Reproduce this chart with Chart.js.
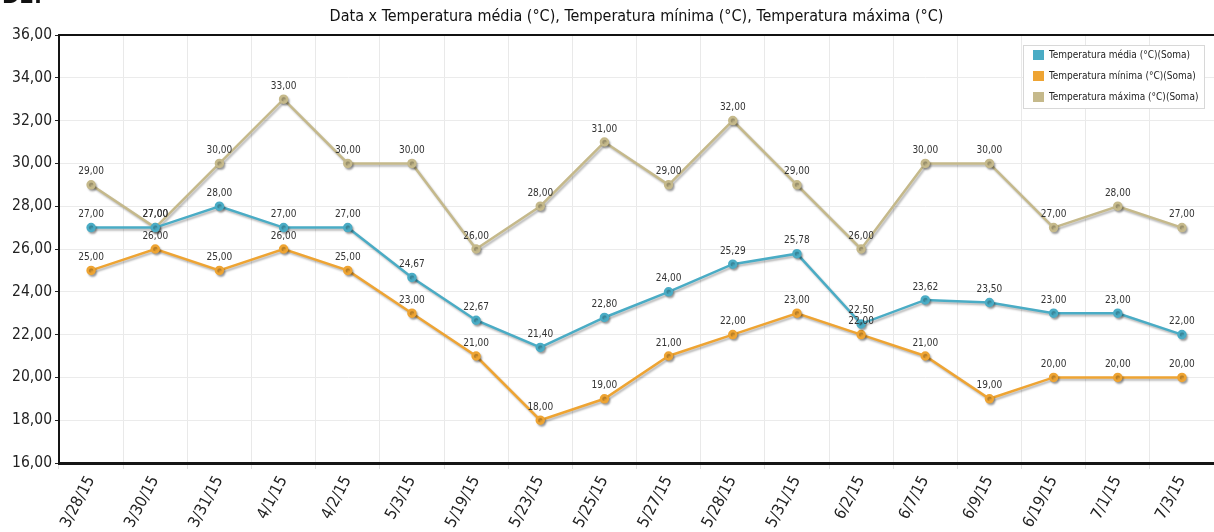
<!DOCTYPE html>
<html>
<head>
<meta charset="utf-8">
<script src="https://cdn.jsdelivr.net/npm/chart.js@4/dist/chart.umd.min.js"></script>
<style>
  html, body { margin: 0; padding: 0; background: #fff; overflow: hidden; }
  #wrap { position: relative; width: 1214px; height: 532px; }
  #tag { position: absolute; left: 2px; top: -16px; font: bold 21px 'DejaVu Sans', sans-serif; color: #111; }
</style>
</head>
<body>
<div id="wrap">
  <canvas id="chart" width="1214" height="532"></canvas>
  <div id="tag">D2.</div>
</div>
<script>
const categories = ['3/28/15','3/30/15','3/31/15','4/1/15','4/2/15','5/3/15','5/19/15','5/23/15','5/25/15',
  '5/27/15','5/28/15','5/31/15','6/2/15','6/7/15','6/9/15','6/19/15','7/1/15','7/3/15'];
const tempMedia  = [27, 27, 28, 27, 27, 24.67, 22.67, 21.40, 22.80, 24.00, 25.29, 25.78, 22.50, 23.62, 23.50, 23.00, 23.00, 22.00];
const tempMinima = [25, 26, 25, 26, 25, 23, 21, 18, 19, 21, 22, 23, 22, 21, 19, 20, 20, 20];
const tempMaxima = [29, 27, 30, 33, 30, 30, 26, 28, 31, 29, 32, 29, 26, 30, 30, 27, 28, 27];
const seriesNames = ['Temperatura média (°C)(Soma)', 'Temperatura mínima (°C)(Soma)', 'Temperatura máxima (°C)(Soma)'];
const yTicks = { min: 16, max: 36, step: 2 };
const chartTitle = 'Data x Temperatura média (°C), Temperatura mínima (°C), Temperatura máxima (°C)';

const FONT = "'DejaVu Sans Condensed', 'DejaVu Sans', sans-serif";
const fmt = v => v.toFixed(2).replace('.', ',');

function series(label, data, color) {
  return {
    label, data,
    borderColor: color, backgroundColor: color,
    pointBackgroundColor: color, pointBorderColor: color,
    borderWidth: 2.5, pointRadius: 3.5, pointHoverRadius: 3.5, tension: 0, fill: false
  };
}

// soft drop shadow under lines and markers
const shadowPlugin = {
  id: 'shadow',
  beforeDatasetsDraw(chart) {
    const c = chart.ctx;
    c.save();
    c.shadowColor = 'rgba(0,0,0,0.28)';
    c.shadowBlur = 2;
    c.shadowOffsetX = 1.5;
    c.shadowOffsetY = 2;
  },
  afterDatasetsDraw(chart) { chart.ctx.restore(); }
};

// value labels above every point
const valueLabels = {
  id: 'valueLabels',
  afterDatasetsDraw(chart) {
    const c = chart.ctx;
    c.save();
    c.font = '10px ' + FONT;
    c.fillStyle = '#333';
    c.textAlign = 'center';
    c.textBaseline = 'bottom';
    chart.data.datasets.forEach((ds, i) => {
      chart.getDatasetMeta(i).data.forEach((pt, j) => {
        c.fillText(fmt(ds.data[j]), pt.x, pt.y - 8);
      });
    });
    c.restore();
  }
};

// title, top frame line and boxed legend inside the plot
const decor = {
  id: 'decor',
  afterDraw(chart) {
    const c = chart.ctx, a = chart.chartArea;
    c.save();
    c.strokeStyle = '#111';
    c.lineWidth = 2;
    c.beginPath(); c.moveTo(a.left, a.top); c.lineTo(a.right, a.top); c.stroke();

    c.font = '16px ' + FONT;
    c.fillStyle = '#111';
    c.textAlign = 'center';
    c.textBaseline = 'middle';
    c.fillText(chartTitle, (a.left + a.right) / 2, 17);

    const bx = 1023, by = 45, bw = 181, bh = 63;
    c.fillStyle = '#fff';
    c.fillRect(bx, by, bw, bh);
    c.strokeStyle = '#d8d8d8';
    c.lineWidth = 1;
    c.strokeRect(bx + 0.5, by + 0.5, bw, bh);
    c.font = '10px ' + FONT;
    c.textAlign = 'left';
    chart.data.datasets.forEach((ds, i) => {
      const yy = by + 10 + i * 21;
      c.fillStyle = ds.borderColor;
      c.fillRect(bx + 10, yy - 5, 11, 10);
      c.fillStyle = '#222';
      c.fillText(ds.label, bx + 26, yy + 0.5);
    });
    c.restore();
  }
};

new Chart(document.getElementById('chart'), {
  type: 'line',
  data: {
    labels: categories,
    datasets: [
      series(seriesNames[0], tempMedia, '#4aacc5'),
      series(seriesNames[1], tempMinima, '#eea433'),
      series(seriesNames[2], tempMaxima, '#c5b98b')
    ]
  },
  options: {
    responsive: false,
    animation: false,
    layout: { autoPadding: false, padding: { top: 35, right: 0, left: 0, bottom: 0 } },
    plugins: { legend: { display: false }, title: { display: false }, tooltip: { enabled: false } },
    scales: {
      x: {
        offset: true,
        grid: { offset: true, color: '#e9e9e9', tickLength: 6, tickColor: '#e0e0e0' },
        border: { color: '#151515', width: 3 },
        ticks: { font: { family: FONT, size: 16 }, color: '#222', minRotation: 62, maxRotation: 62, padding: 4, autoSkip: false },
        afterFit: s => { s.height = 69; s.paddingLeft = 0; s.paddingRight = 0; }
      },
      y: {
        min: yTicks.min, max: yTicks.max,
        grid: { color: '#ebebeb', tickLength: 4, tickColor: '#222' },
        border: { color: '#151515', width: 2 },
        ticks: { stepSize: yTicks.step, font: { family: FONT, size: 15.5 }, color: '#222', padding: 3, callback: v => fmt(v) },
        afterFit: s => { s.width = 59; s.paddingTop = 0; s.paddingBottom = 0; }
      }
    }
  },
  plugins: [shadowPlugin, valueLabels, decor]
});
</script>
</body>
</html>
